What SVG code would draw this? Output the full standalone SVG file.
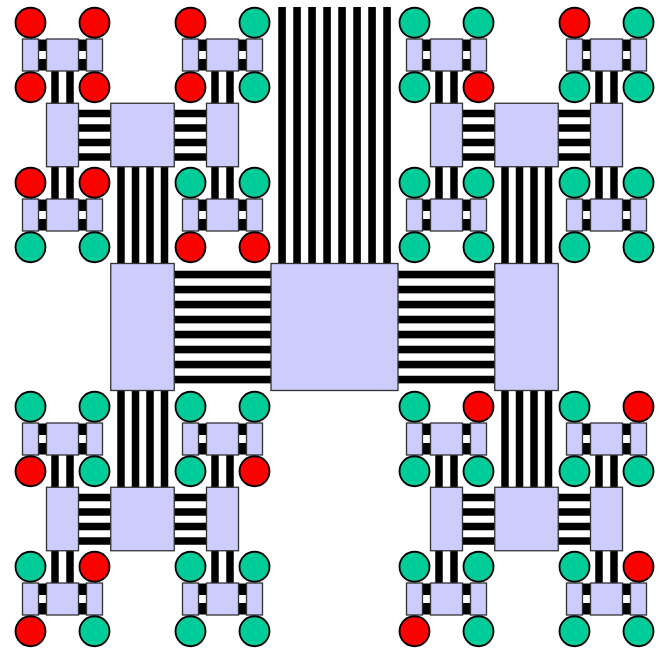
<svg xmlns="http://www.w3.org/2000/svg" width="660" height="652" viewBox="0 0 660 652">
<style>
.n{fill:#ccccff;stroke:#333;stroke-width:1.3}
.r{fill:#ff0000;stroke:#000;stroke-width:1.8}
.g{fill:#00cc99;stroke:#000;stroke-width:1.8}
.s{fill:#000}
</style>
<defs>
<g id="b8h" class="s">
<rect x="-1" y="7.25" width="98.75" height="7.6"/><rect x="-1" y="22.25" width="98.75" height="7.6"/>
<rect x="-1" y="37.25" width="98.75" height="7.6"/><rect x="-1" y="52.25" width="98.75" height="7.6"/>
<rect x="-1" y="67.25" width="98.75" height="7.6"/><rect x="-1" y="82.25" width="98.75" height="7.6"/>
<rect x="-1" y="97.25" width="98.75" height="7.6"/><rect x="-1" y="112.25" width="98.75" height="7.6"/>
</g>
<g id="b4v" class="s">
<rect x="6.5" y="-1" width="7.5" height="98.75"/><rect x="21" y="-1" width="7.5" height="98.75"/>
<rect x="35.5" y="-1" width="7.5" height="98.75"/><rect x="50" y="-1" width="7.5" height="98.75"/>
</g>
<g id="b4h" class="s">
<rect x="-1" y="6.5" width="34.25" height="7.5"/><rect x="-1" y="21" width="34.25" height="7.5"/>
<rect x="-1" y="35.5" width="34.25" height="7.5"/><rect x="-1" y="50" width="34.25" height="7.5"/>
</g>
<g id="b2v" class="s">
<rect x="4.75" y="-1" width="7.5" height="34.25"/><rect x="19.75" y="-1" width="7.5" height="34.25"/>
</g>
<g id="b2h" class="s">
<rect x="-1" y="0.5" width="10" height="11.5"/><rect x="-1" y="20" width="10" height="11.5"/>
</g>
</defs>
<g id="connectors">
<g id="bus-top" class="s">
<rect x="278.25" y="7" width="7.6" height="257.5"/><rect x="293.25" y="7" width="7.6" height="257.5"/>
<rect x="308.25" y="7" width="7.6" height="257.5"/><rect x="323.25" y="7" width="7.6" height="257.5"/>
<rect x="338.25" y="7" width="7.6" height="257.5"/><rect x="353.25" y="7" width="7.6" height="257.5"/>
<rect x="368.25" y="7" width="7.6" height="257.5"/><rect x="383.25" y="7" width="7.6" height="257.5"/>
</g>
<use href="#b8h" x="174.25" y="263.5"/><use href="#b8h" x="398" y="263.5"/>
<use href="#b4v" x="110.75" y="166.75"/><use href="#b4v" x="494.75" y="166.75"/>
<use href="#b4v" x="110.75" y="390.5"/><use href="#b4v" x="494.75" y="390.5"/>
<use href="#b4h" x="78.5" y="103.25"/><use href="#b4h" x="174.25" y="103.25"/>
<use href="#b4h" x="78.5" y="487.25"/><use href="#b4h" x="174.25" y="487.25"/>
<use href="#b4h" x="462.5" y="103.25"/><use href="#b4h" x="558.25" y="103.25"/>
<use href="#b4h" x="462.5" y="487.25"/><use href="#b4h" x="558.25" y="487.25"/>
<use href="#b2v" x="46.5" y="71"/><use href="#b2v" x="46.5" y="166.75"/><use href="#b2v" x="46.5" y="455"/><use href="#b2v" x="46.5" y="550.75"/>
<use href="#b2v" x="206.5" y="71"/><use href="#b2v" x="206.5" y="166.75"/><use href="#b2v" x="206.5" y="455"/><use href="#b2v" x="206.5" y="550.75"/>
<use href="#b2v" x="430.5" y="71"/><use href="#b2v" x="430.5" y="166.75"/><use href="#b2v" x="430.5" y="455"/><use href="#b2v" x="430.5" y="550.75"/>
<use href="#b2v" x="590.5" y="71"/><use href="#b2v" x="590.5" y="166.75"/><use href="#b2v" x="590.5" y="455"/><use href="#b2v" x="590.5" y="550.75"/>
<use href="#b2h" x="38.5" y="39"/><use href="#b2h" x="78.5" y="39"/><use href="#b2h" x="198.5" y="39"/><use href="#b2h" x="238.5" y="39"/>
<use href="#b2h" x="422.5" y="39"/><use href="#b2h" x="462.5" y="39"/><use href="#b2h" x="582.5" y="39"/><use href="#b2h" x="622.5" y="39"/>
<use href="#b2h" x="38.5" y="199"/><use href="#b2h" x="78.5" y="199"/><use href="#b2h" x="198.5" y="199"/><use href="#b2h" x="238.5" y="199"/>
<use href="#b2h" x="422.5" y="199"/><use href="#b2h" x="462.5" y="199"/><use href="#b2h" x="582.5" y="199"/><use href="#b2h" x="622.5" y="199"/>
<use href="#b2h" x="38.5" y="423"/><use href="#b2h" x="78.5" y="423"/><use href="#b2h" x="198.5" y="423"/><use href="#b2h" x="238.5" y="423"/>
<use href="#b2h" x="422.5" y="423"/><use href="#b2h" x="462.5" y="423"/><use href="#b2h" x="582.5" y="423"/><use href="#b2h" x="622.5" y="423"/>
<use href="#b2h" x="38.5" y="583"/><use href="#b2h" x="78.5" y="583"/><use href="#b2h" x="198.5" y="583"/><use href="#b2h" x="238.5" y="583"/>
<use href="#b2h" x="422.5" y="583"/><use href="#b2h" x="462.5" y="583"/><use href="#b2h" x="582.5" y="583"/><use href="#b2h" x="622.5" y="583"/>
</g>
<g id="root"><rect class="n" x="271" y="263.5" width="127" height="127"/></g>
<g id="l1-left"><rect class="n" x="110.75" y="263.5" width="63.5" height="127"/></g>
<g id="l1-right"><rect class="n" x="494.75" y="263.5" width="63.5" height="127"/></g>
<g id="l2-tl"><rect class="n" x="110.75" y="103.25" width="63.5" height="63.5"/></g>
<g id="l2-bl"><rect class="n" x="110.75" y="487.25" width="63.5" height="63.5"/></g>
<g id="l2-tr"><rect class="n" x="494.75" y="103.25" width="63.5" height="63.5"/></g>
<g id="l2-br"><rect class="n" x="494.75" y="487.25" width="63.5" height="63.5"/></g>
<g id="l3-1"><rect class="n" x="46.5" y="103.25" width="32" height="63.5"/></g>
<g id="l3-2"><rect class="n" x="206.5" y="103.25" width="32" height="63.5"/></g>
<g id="l3-3"><rect class="n" x="430.5" y="103.25" width="32" height="63.5"/></g>
<g id="l3-4"><rect class="n" x="590.5" y="103.25" width="32" height="63.5"/></g>
<g id="l3-5"><rect class="n" x="46.5" y="487.25" width="32" height="63.5"/></g>
<g id="l3-6"><rect class="n" x="206.5" y="487.25" width="32" height="63.5"/></g>
<g id="l3-7"><rect class="n" x="430.5" y="487.25" width="32" height="63.5"/></g>
<g id="l3-8"><rect class="n" x="590.5" y="487.25" width="32" height="63.5"/></g>
<g id="l4-1"><rect class="n" x="46.5" y="39" width="32" height="32"/></g>
<g id="l4-2"><rect class="n" x="206.5" y="39" width="32" height="32"/></g>
<g id="l4-3"><rect class="n" x="430.5" y="39" width="32" height="32"/></g>
<g id="l4-4"><rect class="n" x="590.5" y="39" width="32" height="32"/></g>
<g id="l4-5"><rect class="n" x="46.5" y="199" width="32" height="32"/></g>
<g id="l4-6"><rect class="n" x="206.5" y="199" width="32" height="32"/></g>
<g id="l4-7"><rect class="n" x="430.5" y="199" width="32" height="32"/></g>
<g id="l4-8"><rect class="n" x="590.5" y="199" width="32" height="32"/></g>
<g id="l4-9"><rect class="n" x="46.5" y="423" width="32" height="32"/></g>
<g id="l4-10"><rect class="n" x="206.5" y="423" width="32" height="32"/></g>
<g id="l4-11"><rect class="n" x="430.5" y="423" width="32" height="32"/></g>
<g id="l4-12"><rect class="n" x="590.5" y="423" width="32" height="32"/></g>
<g id="l4-13"><rect class="n" x="46.5" y="583" width="32" height="32"/></g>
<g id="l4-14"><rect class="n" x="206.5" y="583" width="32" height="32"/></g>
<g id="l4-15"><rect class="n" x="430.5" y="583" width="32" height="32"/></g>
<g id="l4-16"><rect class="n" x="590.5" y="583" width="32" height="32"/></g>
<g id="l5-r0-1"><rect class="n" x="22.5" y="39" width="16" height="32"/></g>
<g id="l5-r0-2"><rect class="n" x="86.5" y="39" width="16" height="32"/></g>
<g id="l5-r0-3"><rect class="n" x="182.5" y="39" width="16" height="32"/></g>
<g id="l5-r0-4"><rect class="n" x="246.5" y="39" width="16" height="32"/></g>
<g id="l5-r0-5"><rect class="n" x="406.5" y="39" width="16" height="32"/></g>
<g id="l5-r0-6"><rect class="n" x="470.5" y="39" width="16" height="32"/></g>
<g id="l5-r0-7"><rect class="n" x="566.5" y="39" width="16" height="32"/></g>
<g id="l5-r0-8"><rect class="n" x="630.5" y="39" width="16" height="32"/></g>
<g id="l5-r1-1"><rect class="n" x="22.5" y="199" width="16" height="32"/></g>
<g id="l5-r1-2"><rect class="n" x="86.5" y="199" width="16" height="32"/></g>
<g id="l5-r1-3"><rect class="n" x="182.5" y="199" width="16" height="32"/></g>
<g id="l5-r1-4"><rect class="n" x="246.5" y="199" width="16" height="32"/></g>
<g id="l5-r1-5"><rect class="n" x="406.5" y="199" width="16" height="32"/></g>
<g id="l5-r1-6"><rect class="n" x="470.5" y="199" width="16" height="32"/></g>
<g id="l5-r1-7"><rect class="n" x="566.5" y="199" width="16" height="32"/></g>
<g id="l5-r1-8"><rect class="n" x="630.5" y="199" width="16" height="32"/></g>
<g id="l5-r2-1"><rect class="n" x="22.5" y="423" width="16" height="32"/></g>
<g id="l5-r2-2"><rect class="n" x="86.5" y="423" width="16" height="32"/></g>
<g id="l5-r2-3"><rect class="n" x="182.5" y="423" width="16" height="32"/></g>
<g id="l5-r2-4"><rect class="n" x="246.5" y="423" width="16" height="32"/></g>
<g id="l5-r2-5"><rect class="n" x="406.5" y="423" width="16" height="32"/></g>
<g id="l5-r2-6"><rect class="n" x="470.5" y="423" width="16" height="32"/></g>
<g id="l5-r2-7"><rect class="n" x="566.5" y="423" width="16" height="32"/></g>
<g id="l5-r2-8"><rect class="n" x="630.5" y="423" width="16" height="32"/></g>
<g id="l5-r3-1"><rect class="n" x="22.5" y="583" width="16" height="32"/></g>
<g id="l5-r3-2"><rect class="n" x="86.5" y="583" width="16" height="32"/></g>
<g id="l5-r3-3"><rect class="n" x="182.5" y="583" width="16" height="32"/></g>
<g id="l5-r3-4"><rect class="n" x="246.5" y="583" width="16" height="32"/></g>
<g id="l5-r3-5"><rect class="n" x="406.5" y="583" width="16" height="32"/></g>
<g id="l5-r3-6"><rect class="n" x="470.5" y="583" width="16" height="32"/></g>
<g id="l5-r3-7"><rect class="n" x="566.5" y="583" width="16" height="32"/></g>
<g id="l5-r3-8"><rect class="n" x="630.5" y="583" width="16" height="32"/></g>
<g id="leaf-0-0"><circle class="r" cx="30.5" cy="22.75" r="15"/></g>
<g id="leaf-0-1"><circle class="r" cx="94.5" cy="22.75" r="15"/></g>
<g id="leaf-0-2"><circle class="r" cx="190.5" cy="22.75" r="15"/></g>
<g id="leaf-0-3"><circle class="g" cx="254.5" cy="22.75" r="15"/></g>
<g id="leaf-0-4"><circle class="g" cx="414.5" cy="22.75" r="15"/></g>
<g id="leaf-0-5"><circle class="g" cx="478.5" cy="22.75" r="15"/></g>
<g id="leaf-0-6"><circle class="r" cx="574.5" cy="22.75" r="15"/></g>
<g id="leaf-0-7"><circle class="g" cx="638.5" cy="22.75" r="15"/></g>
<g id="leaf-1-0"><circle class="r" cx="30.5" cy="87.25" r="15"/></g>
<g id="leaf-1-1"><circle class="r" cx="94.5" cy="87.25" r="15"/></g>
<g id="leaf-1-2"><circle class="r" cx="190.5" cy="87.25" r="15"/></g>
<g id="leaf-1-3"><circle class="g" cx="254.5" cy="87.25" r="15"/></g>
<g id="leaf-1-4"><circle class="g" cx="414.5" cy="87.25" r="15"/></g>
<g id="leaf-1-5"><circle class="r" cx="478.5" cy="87.25" r="15"/></g>
<g id="leaf-1-6"><circle class="g" cx="574.5" cy="87.25" r="15"/></g>
<g id="leaf-1-7"><circle class="g" cx="638.5" cy="87.25" r="15"/></g>
<g id="leaf-2-0"><circle class="r" cx="30.5" cy="182.75" r="15"/></g>
<g id="leaf-2-1"><circle class="r" cx="94.5" cy="182.75" r="15"/></g>
<g id="leaf-2-2"><circle class="g" cx="190.5" cy="182.75" r="15"/></g>
<g id="leaf-2-3"><circle class="g" cx="254.5" cy="182.75" r="15"/></g>
<g id="leaf-2-4"><circle class="g" cx="414.5" cy="182.75" r="15"/></g>
<g id="leaf-2-5"><circle class="g" cx="478.5" cy="182.75" r="15"/></g>
<g id="leaf-2-6"><circle class="g" cx="574.5" cy="182.75" r="15"/></g>
<g id="leaf-2-7"><circle class="g" cx="638.5" cy="182.75" r="15"/></g>
<g id="leaf-3-0"><circle class="g" cx="30.5" cy="247.25" r="15"/></g>
<g id="leaf-3-1"><circle class="g" cx="94.5" cy="247.25" r="15"/></g>
<g id="leaf-3-2"><circle class="r" cx="190.5" cy="247.25" r="15"/></g>
<g id="leaf-3-3"><circle class="r" cx="254.5" cy="247.25" r="15"/></g>
<g id="leaf-3-4"><circle class="g" cx="414.5" cy="247.25" r="15"/></g>
<g id="leaf-3-5"><circle class="g" cx="478.5" cy="247.25" r="15"/></g>
<g id="leaf-3-6"><circle class="g" cx="574.5" cy="247.25" r="15"/></g>
<g id="leaf-3-7"><circle class="g" cx="638.5" cy="247.25" r="15"/></g>
<g id="leaf-4-0"><circle class="g" cx="30.5" cy="406.75" r="15"/></g>
<g id="leaf-4-1"><circle class="g" cx="94.5" cy="406.75" r="15"/></g>
<g id="leaf-4-2"><circle class="g" cx="190.5" cy="406.75" r="15"/></g>
<g id="leaf-4-3"><circle class="g" cx="254.5" cy="406.75" r="15"/></g>
<g id="leaf-4-4"><circle class="g" cx="414.5" cy="406.75" r="15"/></g>
<g id="leaf-4-5"><circle class="r" cx="478.5" cy="406.75" r="15"/></g>
<g id="leaf-4-6"><circle class="g" cx="574.5" cy="406.75" r="15"/></g>
<g id="leaf-4-7"><circle class="r" cx="638.5" cy="406.75" r="15"/></g>
<g id="leaf-5-0"><circle class="r" cx="30.5" cy="471.25" r="15"/></g>
<g id="leaf-5-1"><circle class="g" cx="94.5" cy="471.25" r="15"/></g>
<g id="leaf-5-2"><circle class="g" cx="190.5" cy="471.25" r="15"/></g>
<g id="leaf-5-3"><circle class="r" cx="254.5" cy="471.25" r="15"/></g>
<g id="leaf-5-4"><circle class="g" cx="414.5" cy="471.25" r="15"/></g>
<g id="leaf-5-5"><circle class="g" cx="478.5" cy="471.25" r="15"/></g>
<g id="leaf-5-6"><circle class="g" cx="574.5" cy="471.25" r="15"/></g>
<g id="leaf-5-7"><circle class="g" cx="638.5" cy="471.25" r="15"/></g>
<g id="leaf-6-0"><circle class="g" cx="30.5" cy="566.75" r="15"/></g>
<g id="leaf-6-1"><circle class="r" cx="94.5" cy="566.75" r="15"/></g>
<g id="leaf-6-2"><circle class="g" cx="190.5" cy="566.75" r="15"/></g>
<g id="leaf-6-3"><circle class="g" cx="254.5" cy="566.75" r="15"/></g>
<g id="leaf-6-4"><circle class="g" cx="414.5" cy="566.75" r="15"/></g>
<g id="leaf-6-5"><circle class="g" cx="478.5" cy="566.75" r="15"/></g>
<g id="leaf-6-6"><circle class="g" cx="574.5" cy="566.75" r="15"/></g>
<g id="leaf-6-7"><circle class="r" cx="638.5" cy="566.75" r="15"/></g>
<g id="leaf-7-0"><circle class="r" cx="30.5" cy="631.25" r="15"/></g>
<g id="leaf-7-1"><circle class="g" cx="94.5" cy="631.25" r="15"/></g>
<g id="leaf-7-2"><circle class="g" cx="190.5" cy="631.25" r="15"/></g>
<g id="leaf-7-3"><circle class="g" cx="254.5" cy="631.25" r="15"/></g>
<g id="leaf-7-4"><circle class="r" cx="414.5" cy="631.25" r="15"/></g>
<g id="leaf-7-5"><circle class="g" cx="478.5" cy="631.25" r="15"/></g>
<g id="leaf-7-6"><circle class="g" cx="574.5" cy="631.25" r="15"/></g>
<g id="leaf-7-7"><circle class="g" cx="638.5" cy="631.25" r="15"/></g>
</svg>
